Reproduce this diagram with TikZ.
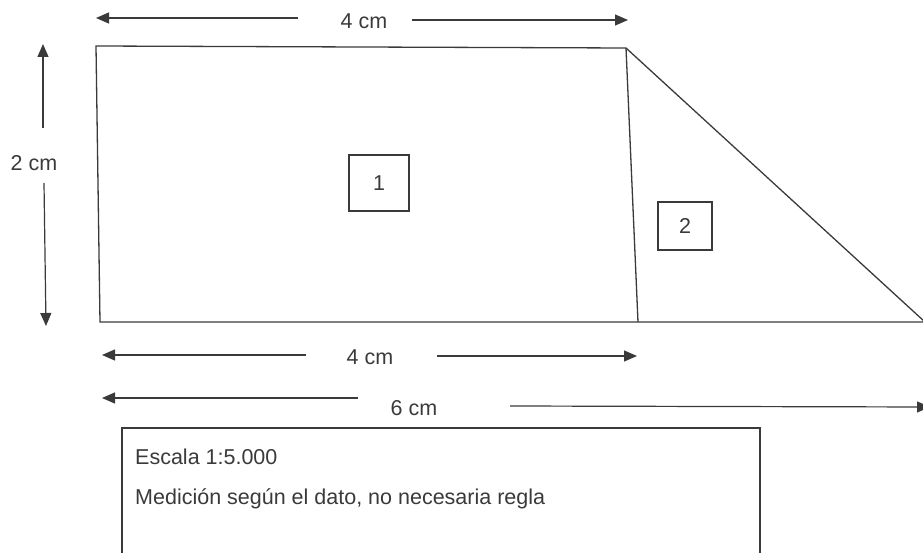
\documentclass[tikz,border=0pt]{standalone}
\usepackage{fontspec}
\setmainfont{Liberation Sans}
\usetikzlibrary{arrows.meta}
\definecolor{ink}{HTML}{3A3A3A}
\begin{document}
\begin{tikzpicture}[x=1pt,y=-1pt,
  outline/.style={draw=ink,line width=1.3pt},
  dimarr/.style={draw=ink,line width=1.2pt,-{Triangle[length=13pt,width=11pt]}},
  dimtxt/.style={text=ink,font=\fontsize{21.5}{26}\selectfont,inner sep=0pt},
  numbox/.style={draw=ink,line width=1.2pt,text=ink,font=\fontsize{21.5}{26}\selectfont,minimum width=60pt,minimum height=56pt,inner sep=0pt},
  notebox/.style={draw=ink,line width=1.2pt}]
\useasboundingbox (0,0) rectangle (923,553);
% outline corners
\coordinate (A) at (96,46);
\coordinate (B) at (626,48);
\coordinate (C) at (638,322);
\coordinate (D) at (925,322);
\coordinate (E) at (100,322);
\draw[outline] (A) -- (B) -- (D) -- (E) -- cycle;
\draw[outline] (B) -- (C);
% area labels
\node[numbox] (n1) at (379,183) {1};
\node[numbox,minimum width=54pt,minimum height=48pt] (n2) at (685,226) {2};
% top dimension
\node[dimtxt] (t4) at (364,21) {4 cm};
\coordinate (t4a) at (298,18);
\coordinate (t4b) at (96,18);
\coordinate (t4c) at (412,20);
\coordinate (t4d) at (628,20);
\draw[dimarr] (t4a) -- (t4b);
\draw[dimarr] (t4c) -- (t4d);
% left dimension
\node[dimtxt] (t2) at (34,163) {2 cm};
\coordinate (t2a) at (43,128);
\coordinate (t2b) at (43,44);
\coordinate (t2c) at (44,183);
\coordinate (t2d) at (46,326);
\draw[dimarr] (t2a) -- (t2b);
\draw[dimarr] (t2c) -- (t2d);
% bottom 4 cm
\node[dimtxt] (b4) at (370,357) {4 cm};
\coordinate (b4a) at (306,355);
\coordinate (b4b) at (102,355);
\coordinate (b4c) at (437,356);
\coordinate (b4d) at (637,356);
\draw[dimarr] (b4a) -- (b4b);
\draw[dimarr] (b4c) -- (b4d);
% bottom 6 cm
\node[dimtxt] (b6) at (414,408) {6 cm};
\coordinate (b6a) at (358,398);
\coordinate (b6b) at (102,398);
\coordinate (b6c) at (510,406);
\coordinate (b6d) at (930,407);
\draw[dimarr] (b6a) -- (b6b);
\draw[dimarr] (b6c) -- (b6d);
% note box
\coordinate (N1) at (122,428);
\coordinate (N2) at (760,570);
\draw[notebox] (N1) rectangle (N2);
\node[dimtxt,anchor=west] (esc) at (135,457) {Escala 1:5.000};
\node[dimtxt,anchor=west] (med) at (135,499) {Medición según el dato, no necesaria regla};
\end{tikzpicture}
\end{document}
